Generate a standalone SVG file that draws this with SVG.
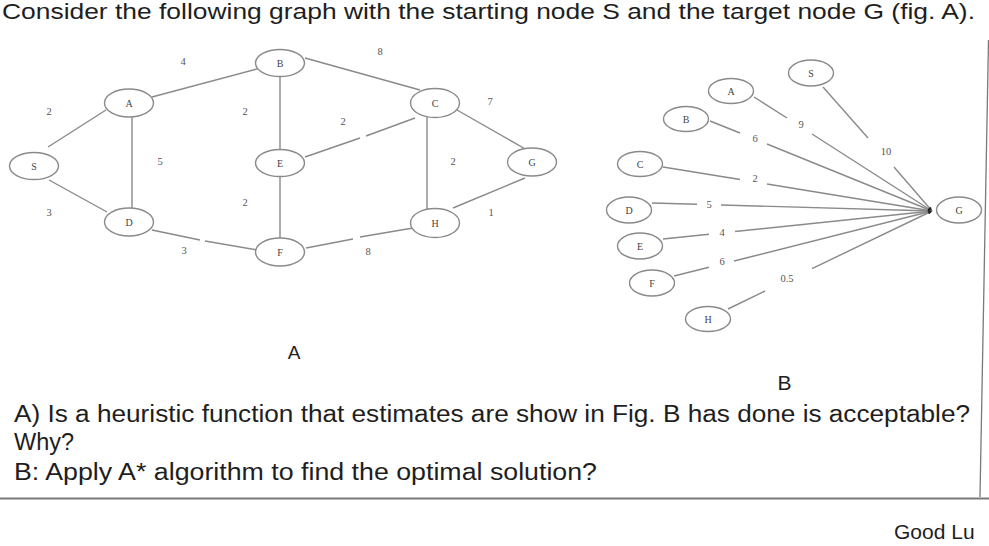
<svg xmlns="http://www.w3.org/2000/svg" width="989" height="546" viewBox="0 0 989 546">
<defs>
<marker id="arr" viewBox="0 0 10 10" refX="10" refY="5" markerWidth="5" markerHeight="4" orient="auto" markerUnits="userSpaceOnUse">
<path d="M0,0 L10,5 L0,10 z" fill="#222"/>
</marker>
</defs>
<style>
.bg{fill:#ffffff}
.nd ellipse{fill:#ffffff;stroke:#8a8a8a;stroke-width:1.4}
.nd text{font-family:"Liberation Serif",serif;font-size:10px;fill:#444;text-anchor:middle}
.cn path{fill:none;stroke:#8a8a8a;stroke-width:1.4}
.cn text{font-family:"Liberation Serif",serif;font-size:10.5px;fill:#555;text-anchor:middle}
.main{font-family:"Liberation Sans",Arial,sans-serif;fill:#1e1e1e}
.frame{stroke:#7a7a7a;fill:none}
</style>
<rect class="bg" x="0" y="0" width="989" height="546"/>

<text class="main" x="2" y="18.5" font-size="21.5" textLength="973" lengthAdjust="spacingAndGlyphs">Consider the following graph with the starting node S and the target node G (fig. A).</text>

<g id="connectors" class="cn">
<!-- Figure A edges -->
<path d="M48,147 L106,110"/>
<path d="M49,180 L107,212"/>
<path d="M132,117 L132,208"/>
<path d="M152,97 L257,69"/>
<path d="M280,77 L280,149"/>
<path d="M280,177 L280,238"/>
<path d="M152,230 L200,240 M205,241 L257,250"/>
<path d="M305,58 L420,90"/>
<path d="M305,157 L360,138 M366,136 L415,118"/>
<path d="M427,117 L427,209"/>
<path d="M457,110 L527,150"/>
<path d="M453,208 L525,178"/>
<path d="M306,248 L353,239 M360,237 L413,228"/>
<text x="49" y="115">2</text>
<text x="49" y="216">3</text>
<text x="160" y="165">5</text>
<text x="183" y="65">4</text>
<text x="245" y="115">2</text>
<text x="245" y="206">2</text>
<text x="184" y="254">3</text>
<text x="380" y="55">8</text>
<text x="343" y="125">2</text>
<text x="453" y="165">2</text>
<text x="490" y="105">7</text>
<text x="491" y="216">1</text>
<text x="368" y="255">8</text>
<!-- Figure B edges -->
<path d="M823,87 L868,138 M894,167 L932,211" marker-end="url(#arr)"/>
<path d="M754,97 L787,118 M812,134 L932,211" marker-end="url(#arr)"/>
<path d="M710,121 L740,133 M767,144 L932,211" marker-end="url(#arr)"/>
<path d="M663,167 L740,179.5 M767,184 L932,211" marker-end="url(#arr)"/>
<path d="M652,203 L697,204.2 M721,205 L932,211" marker-end="url(#arr)"/>
<path d="M663,239 L709,234.3 M735,231.5 L932,211" marker-end="url(#arr)"/>
<path d="M674,276 L709,267.2 M734,261 L932,211" marker-end="url(#arr)"/>
<path d="M728,309 L765,291 M812,268.6 L932,211" marker-end="url(#arr)"/>
<text x="886" y="155" font-size="9.5">10</text>
<text x="801" y="128" font-size="9.5">9</text>
<text x="755" y="142" font-size="9.5">6</text>
<text x="755" y="182" font-size="9.5">2</text>
<text x="709" y="208" font-size="9.5">5</text>
<text x="722" y="236" font-size="9.5">4</text>
<text x="722" y="265" font-size="9.5">6</text>
<text x="787" y="282" font-size="9.5">0.5</text>
</g>

<!-- Figure A nodes -->
<g id="nodeA-S" class="nd"><ellipse cx="34" cy="166" rx="24.5" ry="13.5"/><text x="34" y="169.5">S</text></g>
<g id="nodeA-A" class="nd"><ellipse cx="129" cy="103" rx="24.5" ry="14"/><text x="129" y="106.5">A</text></g>
<g id="nodeA-D" class="nd"><ellipse cx="129" cy="222" rx="24.5" ry="14"/><text x="129" y="225.5">D</text></g>
<g id="nodeA-B" class="nd"><ellipse cx="280" cy="63" rx="24.5" ry="13.5"/><text x="280" y="66.5">B</text></g>
<g id="nodeA-E" class="nd"><ellipse cx="280" cy="163" rx="24.5" ry="13.5"/><text x="280" y="166.5">E</text></g>
<g id="nodeA-F" class="nd"><ellipse cx="280" cy="252" rx="24.5" ry="14"/><text x="280" y="255.5">F</text></g>
<g id="nodeA-C" class="nd"><ellipse cx="435" cy="103" rx="24.5" ry="14.5"/><text x="435" y="106.5">C</text></g>
<g id="nodeA-G" class="nd"><ellipse cx="532" cy="162" rx="24.5" ry="14"/><text x="532" y="165.5">G</text></g>
<g id="nodeA-H" class="nd"><ellipse cx="435" cy="223" rx="24.5" ry="14.5"/><text x="435" y="226.5">H</text></g>

<!-- Figure B nodes -->
<g id="nodeB-S" class="nd"><ellipse cx="811" cy="73" rx="22.5" ry="13"/><text x="811" y="76.5">S</text></g>
<g id="nodeB-A" class="nd"><ellipse cx="731" cy="91" rx="22.5" ry="12.5"/><text x="731" y="94.5">A</text></g>
<g id="nodeB-B" class="nd"><ellipse cx="686" cy="119" rx="22.5" ry="12.5"/><text x="686" y="122.5">B</text></g>
<g id="nodeB-C" class="nd"><ellipse cx="640" cy="164" rx="22.5" ry="12.5"/><text x="640" y="167.5">C</text></g>
<g id="nodeB-D" class="nd"><ellipse cx="629" cy="210" rx="22.5" ry="13"/><text x="629" y="213.5">D</text></g>
<g id="nodeB-E" class="nd"><ellipse cx="640" cy="246" rx="22.5" ry="13"/><text x="640" y="249.5">E</text></g>
<g id="nodeB-F" class="nd"><ellipse cx="652" cy="283" rx="22.5" ry="13"/><text x="652" y="286.5">F</text></g>
<g id="nodeB-H" class="nd"><ellipse cx="708" cy="319" rx="22.5" ry="12.5"/><text x="708" y="322.5">H</text></g>
<g id="nodeB-G" class="nd"><ellipse cx="959" cy="210" rx="22.5" ry="13"/><text x="959" y="213.5">G</text></g>

<text class="main" x="294" y="359" font-size="19" text-anchor="middle">A</text>
<text class="main" x="784.5" y="390" font-size="21" text-anchor="middle">B</text>

<text class="main" x="14" y="422" font-size="23.5" textLength="956" lengthAdjust="spacingAndGlyphs">A) Is a heuristic function that estimates are show in Fig. B has done is acceptable?</text>
<text class="main" x="14" y="450" font-size="23.5">Why?</text>
<text class="main" x="14" y="480" font-size="23.5" textLength="583" lengthAdjust="spacingAndGlyphs">B: Apply A* algorithm to find the optimal solution?</text>

<line class="frame" x1="0" y1="498.5" x2="989" y2="498.5" stroke-width="2"/>
<line class="frame" x1="988.5" y1="40" x2="980" y2="497" stroke-width="1.3" stroke="#bdbdbd"/>

<text class="main" x="894" y="539" font-size="21">Good Lu</text>
</svg>
